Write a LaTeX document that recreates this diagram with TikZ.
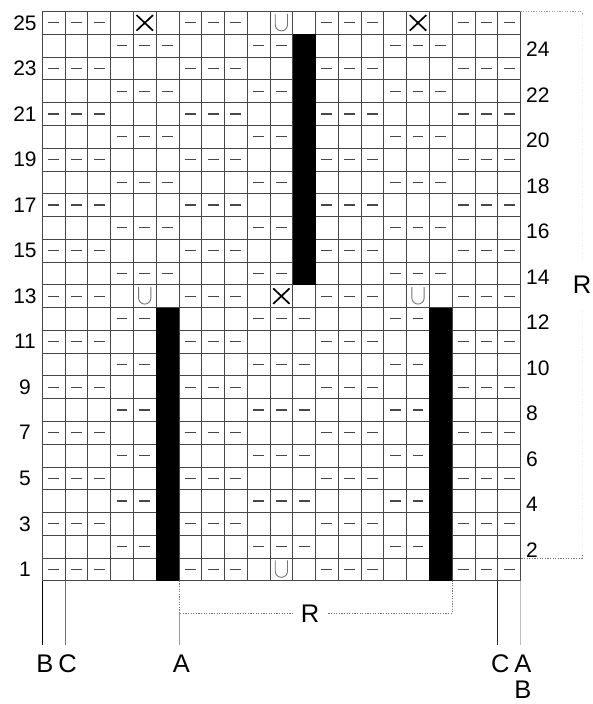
\documentclass[tikz,border=0pt]{standalone}
\usepackage{fontspec}
\setmainfont{Liberation Sans}
\usetikzlibrary{positioning}

\begin{document}
\begin{tikzpicture}[x=22.77pt, y=22.77pt,
  gridline/.style={black!72, line width=0.75pt},
  purl/.style={black!72, line width=1.1pt},
  cross/.style={black, line width=1.7pt},
  slip/.style={black!55, line width=0.9pt},
  dotbr/.style={black!55, line width=0.8pt, dash pattern=on 1.2pt off 1.4pt},
  rownum/.style={font=\fontsize{21}{21}\selectfont, inner sep=0pt},
  lbl/.style={font=\fontsize{25.5}{25.5}\selectfont, inner xsep=0pt, inner ysep=9.7pt},
  rlab/.style={font=\fontsize{25.5}{25.5}\selectfont, fill=white, text=black}]
  \useasboundingbox (-1.858,-5.413) rectangle (24.185,25.505);

  % grid
  \foreach \y in {0,...,25} \draw[gridline] (0,\y) -- (21,\y);
  \foreach \x in {0,...,21} \draw[gridline] (\x,0) -- (\x,25);

  % purl stitches
  \foreach \r in {1,3,...,25}
    \foreach \c in {0,1,2,6,7,8,12,13,14,18,19,20}
      \draw[purl] (\c+0.26,\r-0.5) -- (\c+0.74,\r-0.5);
  \foreach \r in {14,16,...,24}
    \foreach \c in {3,4,5,9,10,15,16,17}
      \draw[purl] (\c+0.26,\r-0.5) -- (\c+0.74,\r-0.5);
  \foreach \r in {2,4,...,12}
    \foreach \c in {3,4,9,10,11,15,16}
      \draw[purl] (\c+0.26,\r-0.5) -- (\c+0.74,\r-0.5);

  % crossed and slipped stitches
  \foreach \c/\r in {4/25,16/25,10/13}
    \draw[cross] (\c+0.14,\r-0.84) -- (\c+0.86,\r-0.16)
                 (\c+0.14,\r-0.16) -- (\c+0.86,\r-0.84);
  \foreach \c/\r in {10/25,4/13,16/13,10/1}
    \draw[slip] (\c+0.23,\r-0.11) -- (\c+0.23,\r-0.58)
      arc[start angle=180, end angle=360, radius=0.27] -- (\c+0.77,\r-0.11);

  % no stitch
  \fill (11,13) rectangle (12,24);
  \fill (5,0) rectangle (6,12);
  \fill (17,0) rectangle (18,12);

  % row numbers
  \foreach \r in {1,3,...,25} \node[rownum] (l\r) at (-0.76,\r-0.5) {\r};
  \foreach \r in {2,4,...,24} \node[rownum, anchor=west] (r\r) at (21.24,\r-0.66) {\r};

  % repeats
  \coordinate (g6) at (6,0);
  \coordinate (g18) at (18,0);
  \coordinate (rl) at (6,-1.43);
  \coordinate (rr) at (18,-1.43);
  \draw[dotbr] (g6) -- (rl) -- node[rlab, pos=0.48, inner xsep=8pt] (rbot) {R} (rr) -- (g18);

  \coordinate (t1) at (21,25);
  \coordinate (t2) at (23.7,25);
  \coordinate (b1) at (21,1);
  \coordinate (b2) at (23.7,1);
  \draw[dotbr, black!40] (t1) -- (t2) -- ([yshift=-3pt]t2);
  \draw[dotbr, black!6] (t2) -- node[rlab, inner ysep=15pt] (rside) {R} (b2);
  \draw[dotbr] ([yshift=3pt]b2) -- (b2) -- (b1);

  % edge lines
  \foreach \i/\x/\t/\c in {1/0/B/black, 2/1/C/black!55, 4/20/C/black!85, 5/21/A/black!25} {
    \coordinate (lt\i) at (\x,0);
    \node[lbl] (lb\i) at (\x+0.11,-3.66) {\t};
    \draw[\c, line width=0.8pt] (lt\i) -- (lt\i |- lb\i.north);
  }
  \node[lbl] (lb3) at (6.11,-3.66) {A};
  \draw[black!40, line width=0.8pt] (rl) -- (rl |- lb3.north);
  \node[lbl] (lb6) at (21.11,-4.80) {B};
\end{tikzpicture}
\end{document}
